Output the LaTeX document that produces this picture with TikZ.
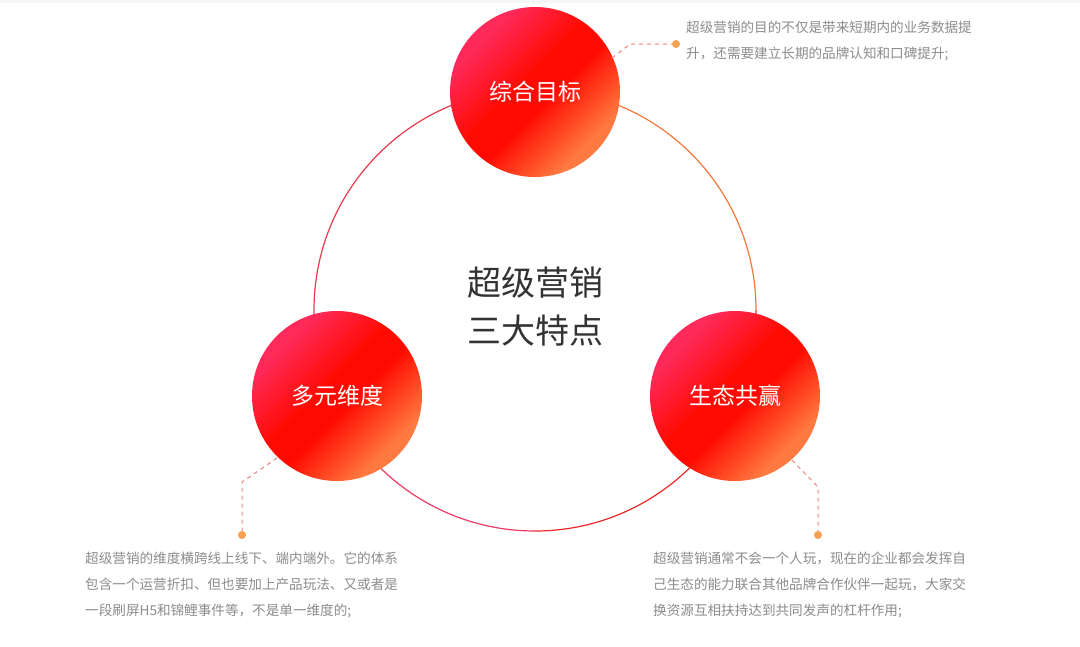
\documentclass[tikz,border=0pt]{standalone}
\usepackage{fontspec}
\setmainfont{Noto Sans CJK SC}
\definecolor{pinkred}{HTML}{FF2A5A}
\definecolor{midred}{HTML}{FF0A00}
\definecolor{orangeend}{HTML}{FF7A40}
\pgfdeclarehorizontalshading{ballsh}{100bp}{color(0bp)=(pinkred); color(28bp)=(pinkred); color(46bp)=(midred); color(54bp)=(midred); color(72bp)=(orangeend); color(100bp)=(orangeend)}
\begin{document}
\begin{tikzpicture}[x=1pt,y=-1pt,
  ball/.style={circle,minimum size=170pt,inner sep=0pt,text=white,font=\fontsize{23}{26}\selectfont,
    shading=ballsh,shading angle=-45},
  lead/.style={draw=leadc,dashed,dash pattern=on 4pt off 4pt,line width=1pt},
  dot/.style={circle,fill=dotc,inner sep=0pt,minimum size=8pt},
  desc/.style={anchor=north west,text=gray,align=left,font=\fontsize{13.6}{26}\selectfont,inner sep=0pt}]
\definecolor{leadc}{HTML}{F08080}
\definecolor{dotc}{HTML}{F7A050}
\definecolor{gray}{HTML}{8C8C8C}
\useasboundingbox (0,0) rectangle (1080,646);
\fill[white] (0,0) rectangle (1080,646);
\fill[black!4] (0,0) rectangle (1080,3);
\coordinate (C) at (535,310);
\draw[line width=1.2pt,color={rgb,255:red,232;green,60;blue,100}] (C) ++(180:221) arc[start angle=180,end angle=90,radius=221];
\draw[line width=1.2pt,color={rgb,255:red,235;green,40;blue,40}] (C) ++(90:221) arc[start angle=90,end angle=0,radius=221];
\draw[line width=1.2pt,color={rgb,255:red,230;green,60;blue,80}] (C) ++(180:221) arc[start angle=180,end angle=270,radius=221];
\draw[line width=1.2pt,color={rgb,255:red,245;green,120;blue,60}] (C) ++(270:221) arc[start angle=270,end angle=360,radius=221];
\node[ball] (t) at (535,92) {综合目标};
\node[ball] (l) at (337,396) {多元维度};
\node[ball] (r) at (735,396) {生态共赢};
\node[align=center,text={rgb,255:red,51;green,51;blue,51},font=\fontsize{34}{48}\selectfont] (m) at (535,307) {超级营销\\三大特点};
\node[dot] (dt) at (676,44) {};
\node[dot] (dl) at (242,535) {};
\node[dot] (dr) at (818,535) {};
\coordinate (et) at (612,58);
\coordinate (el) at (277,458);
\coordinate (er) at (792,460);
\draw[lead] (et) -- (630,44) -- (dt);
\draw[lead] (el) -- (242,482) -- (dl);
\draw[lead] (er) -- (818,487) -- (dr);
\node[desc] (tt) at (686,21) {超级营销的目的不仅是带来短期内的业务数据提\\升，还需要建立长期的品牌认知和口碑提升;};
\node[desc] (tl) at (85,552) {超级营销的维度横跨线上线下、端内端外。它的体系\\包含一个运营折扣、但也要加上产品玩法、又或者是\\一段刷屏H5和锦鲤事件等，不是单一维度的;};
\node[desc] (tr) at (653,552) {超级营销通常不会一个人玩，现在的企业都会发挥自\\己生态的能力联合其他品牌合作伙伴一起玩，大家交\\换资源互相扶持达到共同发声的杠杆作用;};
\end{tikzpicture}
\end{document}
